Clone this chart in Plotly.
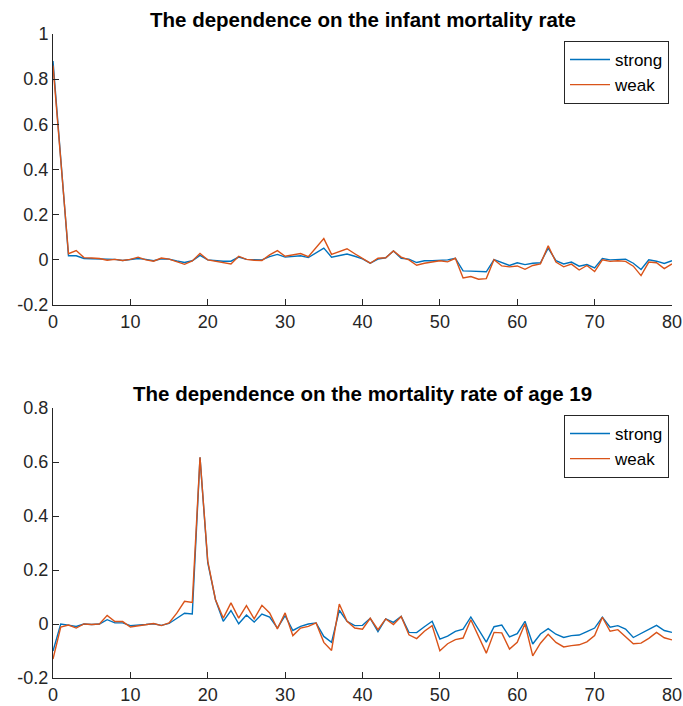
import plotly.graph_objects as go

ages = list(range(81))

infant_strong = [0.88, 0.45, 0.018, 0.018, 0.006, 0.005, 0.004, 0.0, 0.002, -0.003,
                 0.002, 0.006, 0.002, -0.004, 0.005, 0.003, -0.005, -0.012, -0.004, 0.02,
                 0.0, -0.004, -0.006, -0.006, 0.012, 0.002, 0.0, 0.0, 0.014, 0.024,
                 0.012, 0.015, 0.018, 0.01, 0.03, 0.052, 0.012, 0.018, 0.026, 0.016,
                 0.004, -0.015, 0.003, 0.009, 0.039, 0.007, 0.003, -0.012, -0.004, -0.004,
                 -0.001, 0.0, 0.007, -0.049, -0.05, -0.05, -0.053, 0.001, -0.013, -0.025,
                 -0.013, -0.021, -0.015, -0.013, 0.052, -0.004, -0.018, -0.01, -0.028, -0.021,
                 -0.036, 0.006, 0.0, 0.003, 0.003, -0.015, -0.043, 0.0, -0.006, -0.016,
                 -0.004]
infant_weak = [0.86, 0.44, 0.027, 0.041, 0.01, 0.008, 0.006, -0.002, 0.002, -0.003,
               0.002, 0.012, 0.0, -0.006, 0.008, 0.003, -0.008, -0.02, -0.005, 0.028,
               0.0, -0.006, -0.01, -0.018, 0.016, 0.002, -0.002, -0.003, 0.022, 0.041,
               0.016, 0.022, 0.028, 0.014, 0.055, 0.094, 0.024, 0.036, 0.049, 0.027,
               0.004, -0.015, 0.007, 0.009, 0.039, 0.012, 0.0, -0.024, -0.015, -0.009,
               -0.004, -0.009, 0.007, -0.08, -0.074, -0.086, -0.083, 0.001, -0.027, -0.031,
               -0.027, -0.042, -0.025, -0.018, 0.062, -0.01, -0.031, -0.019, -0.045, -0.025,
               -0.052, 0.0, -0.007, -0.004, -0.007, -0.028, -0.07, -0.01, -0.013, -0.039,
               -0.018]

age19_strong = [-0.10, 0.0, -0.004, -0.009, 0.0, -0.002, 0.0, 0.016, 0.004, 0.004,
                -0.006, -0.005, -0.002, 0.001, -0.005, 0.002, 0.022, 0.04, 0.037, 0.617,
                0.227, 0.09, 0.01, 0.05, 0.001, 0.033, 0.007, 0.037, 0.026, -0.015,
                0.031, -0.024, -0.009, 0.0, 0.004, -0.046, -0.068, 0.051, 0.01, -0.006,
                -0.005, 0.021, -0.028, 0.019, 0.006, 0.028, -0.031, -0.032, -0.01, 0.01,
                -0.056, -0.045, -0.027, -0.019, 0.026, -0.021, -0.067, -0.01, -0.004, -0.048,
                -0.036, 0.01, -0.074, -0.037, -0.017, -0.038, -0.05, -0.043, -0.041, -0.028,
                -0.015, 0.025, -0.012, -0.006, -0.019, -0.05, -0.036, -0.021, -0.005, -0.024,
                -0.031]
age19_weak = [-0.13, -0.011, -0.004, -0.015, 0.0, -0.002, 0.0, 0.032, 0.009, 0.009,
              -0.011, -0.007, -0.003, 0.002, -0.006, 0.004, 0.04, 0.084, 0.08, 0.617,
              0.233, 0.09, 0.022, 0.078, 0.022, 0.068, 0.019, 0.069, 0.041, -0.018,
              0.041, -0.043, -0.015, -0.009, 0.004, -0.068, -0.098, 0.074, 0.01, -0.015,
              -0.019, 0.021, -0.021, 0.019, -0.002, 0.028, -0.04, -0.054, -0.027, -0.006,
              -0.099, -0.073, -0.058, -0.052, 0.016, -0.046, -0.108, -0.031, -0.033, -0.093,
              -0.068, 0.001, -0.118, -0.071, -0.038, -0.068, -0.085, -0.08, -0.077, -0.066,
              -0.043, 0.025, -0.027, -0.021, -0.046, -0.073, -0.071, -0.053, -0.031, -0.051,
              -0.059]

series_names = ["strong", "weak"]
titles = ["The dependence on the infant mortality rate",
          "The dependence on the mortality rate of age 19"]
x_ticks = [0, 10, 20, 30, 40, 50, 60, 70, 80]
y_ticks_top = [-0.2, 0, 0.2, 0.4, 0.6, 0.8, 1]
y_ticks_bottom = [-0.2, 0, 0.2, 0.4, 0.6, 0.8]

BLUE = "#0072BD"
RED = "#D95319"
AX = "#262626"
FONT = "Liberation Sans, Arial, Helvetica, sans-serif"

W, H = 683, 706
fig = go.Figure()

fig.add_trace(go.Scatter(x=ages, y=infant_strong, mode="lines", name=series_names[0],
                         line=dict(color=BLUE, width=1.4), xaxis="x", yaxis="y", legend="legend"))
fig.add_trace(go.Scatter(x=ages, y=infant_weak, mode="lines", name=series_names[1],
                         line=dict(color=RED, width=1.4), xaxis="x", yaxis="y", legend="legend"))
fig.add_trace(go.Scatter(x=ages, y=age19_strong, mode="lines", name=series_names[0],
                         line=dict(color=BLUE, width=1.4), xaxis="x2", yaxis="y2", legend="legend2"))
fig.add_trace(go.Scatter(x=ages, y=age19_weak, mode="lines", name=series_names[1],
                         line=dict(color=RED, width=1.4), xaxis="x2", yaxis="y2", legend="legend2"))

xl, xr = 53 / W, 672 / W
top_dom = [(H - 305) / H, (H - 34) / H]
bot_dom = [(H - 678) / H, (H - 408) / H]

axis_common = dict(showline=True, linecolor=AX, linewidth=1, ticks="inside", ticklen=6,
                   tickcolor=AX, tickwidth=1, showgrid=False, zeroline=False, mirror=False,
                   automargin=False,
                   tickfont=dict(family=FONT, size=18, color=AX))

def tick_text(vals):
    return ["%g" % v for v in vals]

legend_common = dict(xanchor="right", yanchor="top", bgcolor="white", bordercolor=AX,
                     borderwidth=1, itemwidth=40, tracegroupgap=0,
                     font=dict(family=FONT, size=17, color="black"))

fig.update_layout(
    width=W, height=H, autosize=False,
    margin=dict(l=0, r=0, t=0, b=0, pad=0, autoexpand=False),
    paper_bgcolor="white", plot_bgcolor="white",
    showlegend=True,
    xaxis=dict(domain=[xl, xr], range=[0, 80], anchor="y", tickvals=x_ticks, **axis_common),
    yaxis=dict(domain=top_dom, range=[-0.2, 1], anchor="x", tickvals=y_ticks_top,
               ticktext=tick_text(y_ticks_top), **axis_common),
    xaxis2=dict(domain=[xl, xr], range=[0, 80], anchor="y2", tickvals=x_ticks, **axis_common),
    yaxis2=dict(domain=bot_dom, range=[-0.2, 0.8], anchor="x2", tickvals=y_ticks_bottom,
                ticktext=tick_text(y_ticks_bottom), **axis_common),
    legend=dict(x=669 / W, y=(H - 41) / H, **legend_common),
    legend2=dict(x=669 / W, y=(H - 415) / H, **legend_common),
    annotations=[
        dict(text="<b>%s</b>" % titles[0], x=(xl + xr) / 2, y=(H - 20) / H, xref="paper", yref="paper",
             showarrow=False, xanchor="center", yanchor="middle",
             font=dict(family=FONT, size=20.5, color="black")),
        dict(text="<b>%s</b>" % titles[1], x=(xl + xr) / 2, y=(H - 393) / H, xref="paper", yref="paper",
             showarrow=False, xanchor="center", yanchor="middle",
             font=dict(family=FONT, size=20.5, color="black")),
    ],
)

fig.write_html("out.html")
